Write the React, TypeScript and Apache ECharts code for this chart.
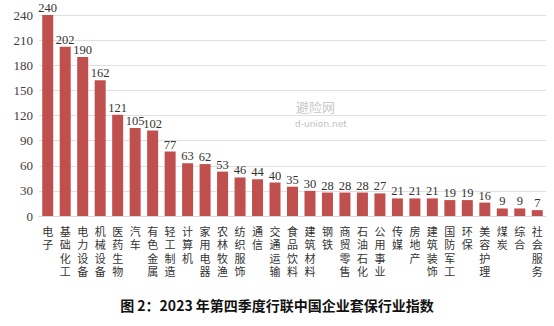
import React, { useEffect, useRef } from "react";
import * as echarts from "echarts";

const categories = ["电子", "基础化工", "电力设备", "机械设备", "医药生物", "汽车", "有色金属", "轻工制造", "计算机", "家用电器", "农林牧渔", "纺织服饰", "通信", "交通运输", "食品饮料", "建筑材料", "钢铁", "商贸零售", "石油石化", "公用事业", "传媒", "房地产", "建筑装饰", "国防军工", "环保", "美容护理", "煤炭", "综合", "社会服务"];
const values = [240, 202, 190, 162, 121, 105, 102, 77, 63, 62, 53, 46, 44, 40, 35, 30, 28, 28, 28, 27, 21, 21, 21, 19, 19, 16, 9, 9, 7];
const yTicks = [0, 30, 60, 90, 120, 150, 180, 210, 240];
const title = "图 2：2023 年第四季度行联中国企业套保行业指数";

export default function App() {
  const ref = useRef<HTMLDivElement>(null);
  useEffect(() => {
    const chart = echarts.init(ref.current!, null, { renderer: "svg" });
    chart.setOption({
      animation: false,
      backgroundColor: "#ffffff",
      grid: { left: 39, right: 8, top: 15, bottom: 110 },
      xAxis: {
        type: "category",
        data: categories,
        axisTick: { show: false },
        axisLine: { lineStyle: { color: "#d9d9d9", width: 1 } },
        axisLabel: {
          interval: 0,
          margin: 8,
          color: "#333",
          fontFamily: "Noto Sans CJK SC",
          fontSize: 11,
          lineHeight: 13.5,
          verticalAlign: "top",
          formatter: (v: string) => v.split("").join("\n"),
        },
      },
      yAxis: {
        type: "value",
        min: yTicks[0],
        max: yTicks[yTicks.length - 1],
        interval: 30,
        axisLine: { show: false },
        axisTick: { show: false },
        splitLine: { lineStyle: { color: "#e0e0e0", width: 1 } },
        axisLabel: {
          color: "#404040",
          fontFamily: "Liberation Serif",
          fontSize: 13,
          margin: 6,
        },
      },
      series: [
        {
          type: "bar",
          data: values,
          barWidth: 11,
          itemStyle: { color: "#C0504D" },
          label: {
            show: true,
            position: "top",
            distance: 1,
            color: "#333",
            fontFamily: "Liberation Serif",
            fontSize: 12.5,
            lineHeight: 12,
          },
        },
      ],
      graphic: [
        {
          type: "text",
          left: "center",
          top: 298,
          style: {
            text: title,
            font: "bold 14px 'Noto Sans CJK SC'",
            fill: "#111",
          },
        },
        {
          type: "text",
          x: 296,
          y: 100,
          style: { text: "避险网", font: "13px 'Noto Sans CJK SC'", fill: "#c8c8c8" },
        },
        {
          type: "text",
          x: 295,
          y: 119,
          style: { text: "d-union.net", font: "9px 'DejaVu Sans'", fill: "#c0c0c0" },
        },
      ],
    });
    return () => chart.dispose();
  }, []);
  return <div ref={ref} style={{ width: 554, height: 326, position: "absolute", left: 0, top: 0 }} />;
}
